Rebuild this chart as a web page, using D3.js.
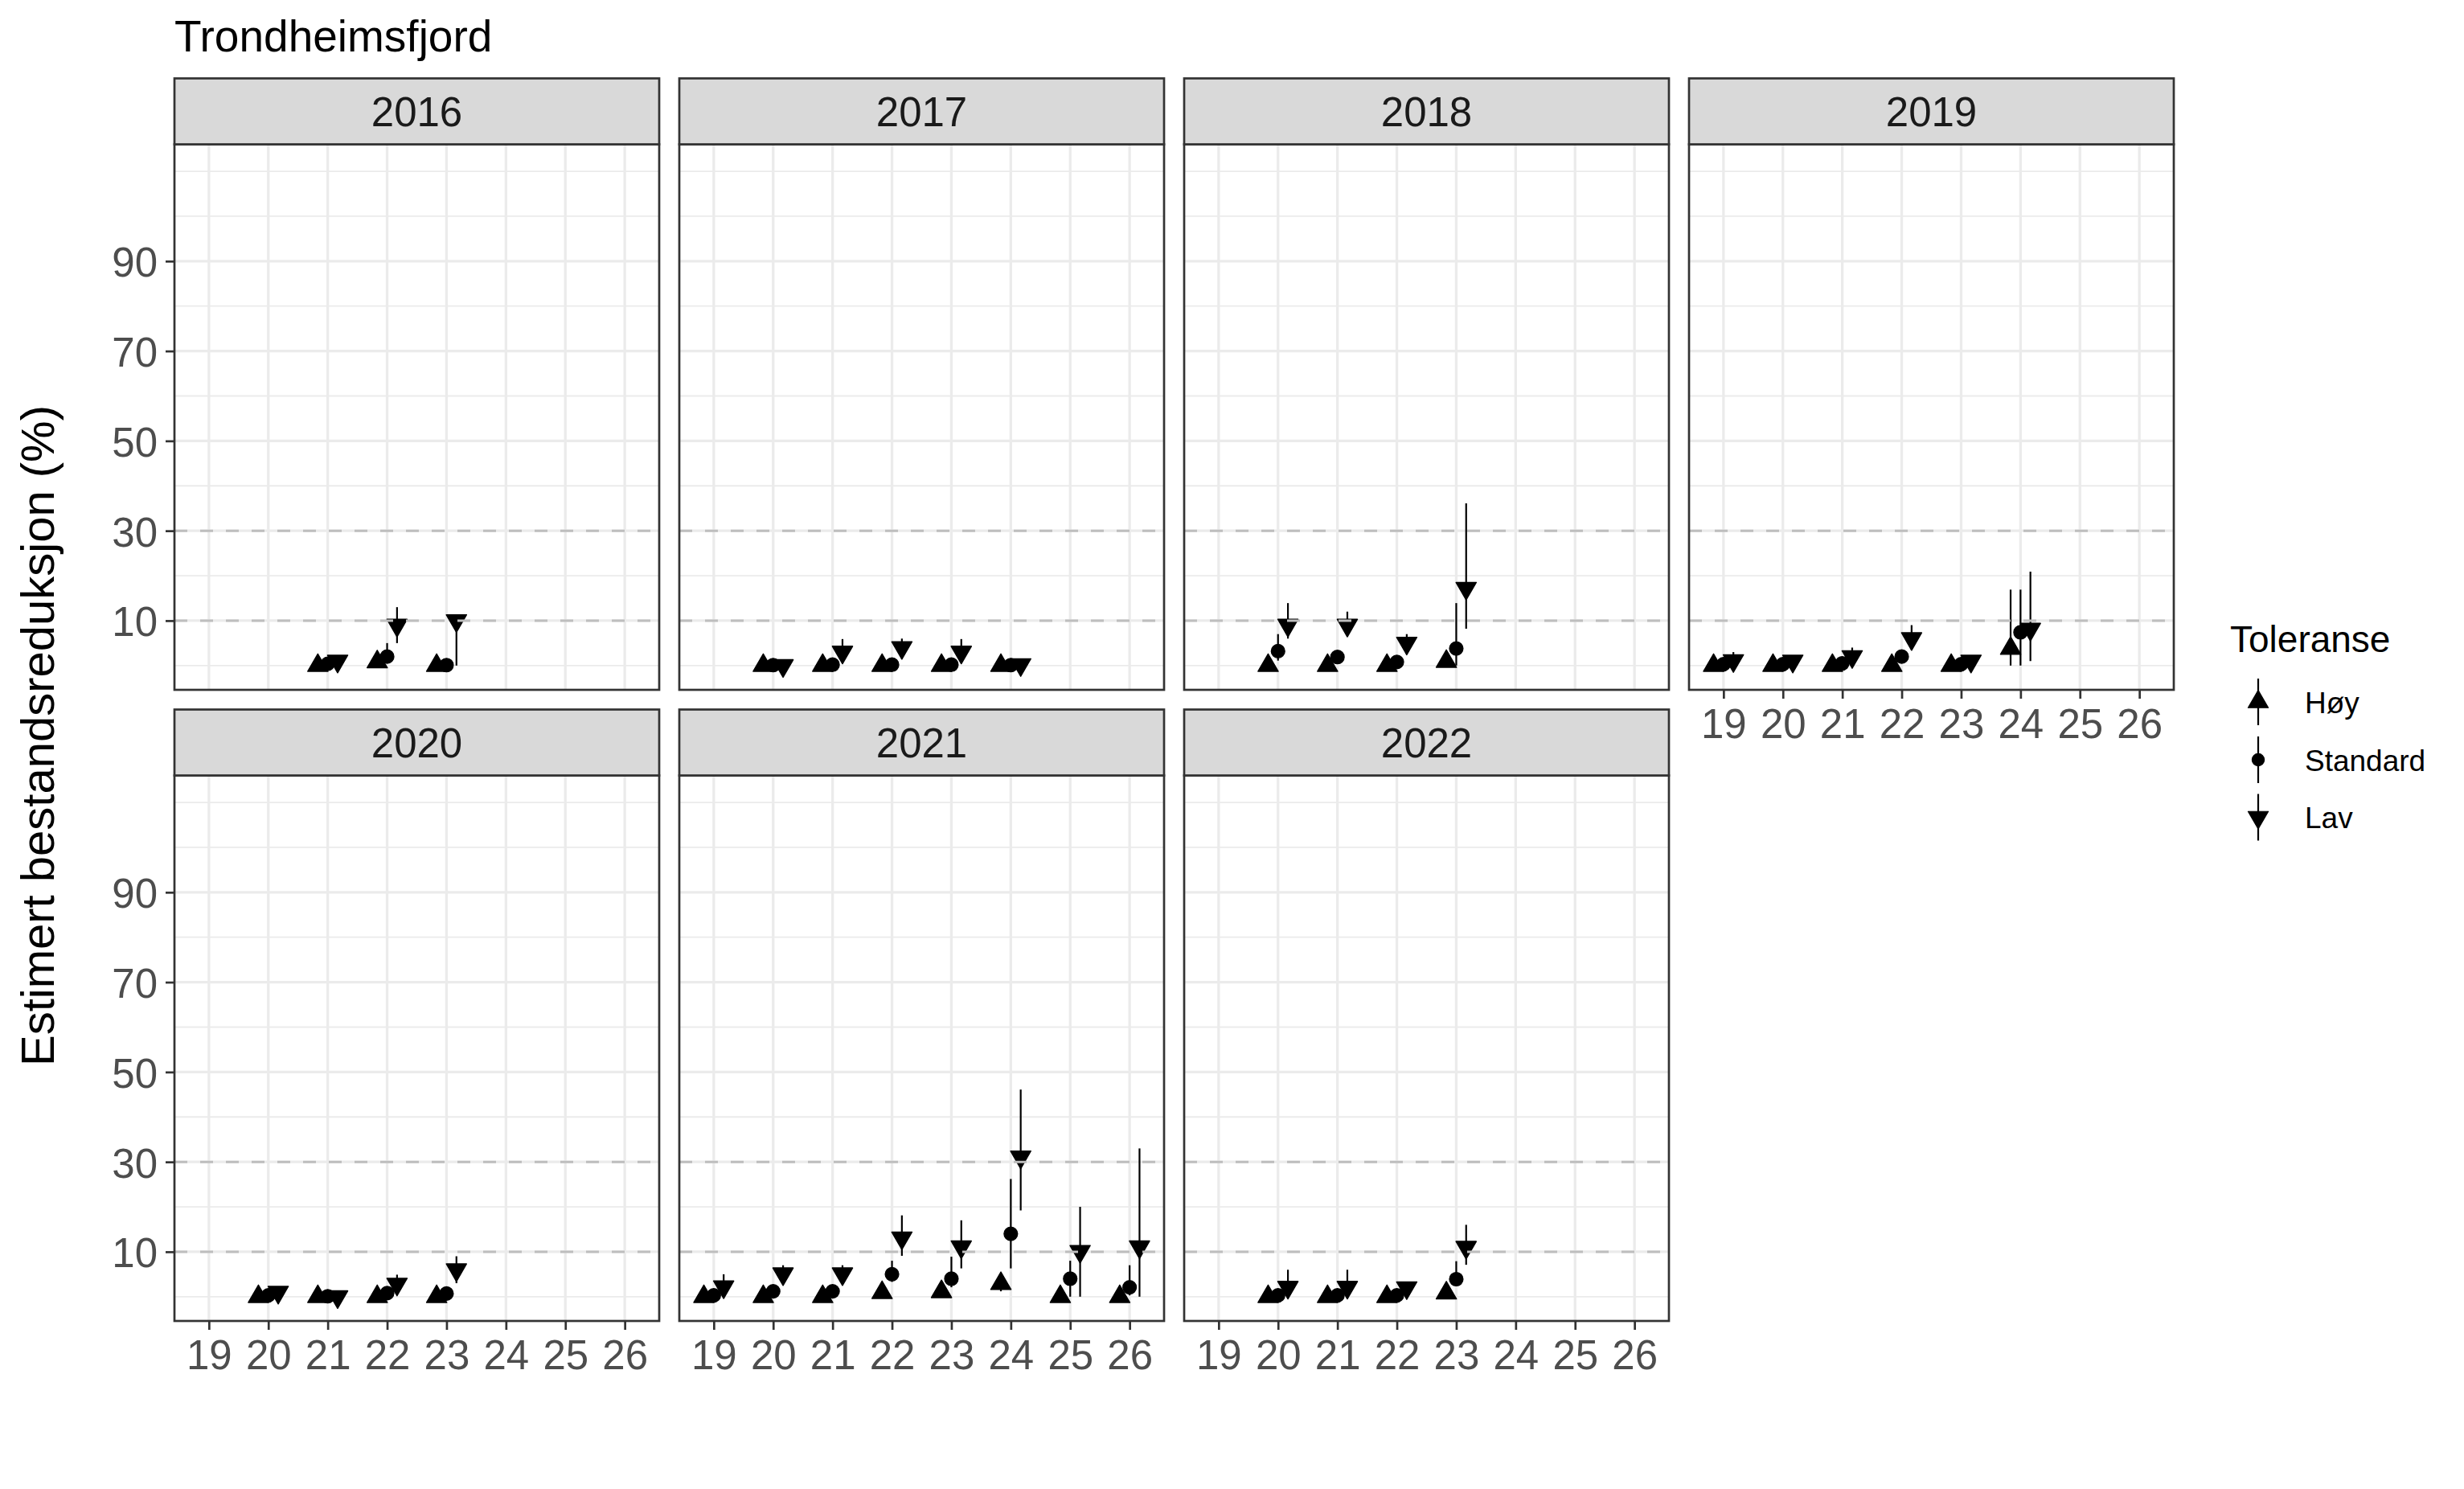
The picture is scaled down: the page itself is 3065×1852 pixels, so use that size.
<!DOCTYPE html>
<html><head><meta charset="utf-8">
<script src="https://cdn.jsdelivr.net/npm/d3@7"></script>
<style>body{margin:0;background:#fff}</style>
</head><body><svg id="c" width="3065" height="1852" xmlns="http://www.w3.org/2000/svg"></svg>
<script>
// ---------------- data ----------------
const years = [2016, 2017, 2018, 2019, 2020, 2021, 2022];
const weekTicks = [19, 20, 21, 22, 23, 24, 25, 26];
const yTicks = [10, 30, 50, 70, 90];
const yMinor = [0, 20, 40, 60, 80, 100, 110];
const refLines = [10, 30];
const tolerances = ["Høy", "Standard", "Lav"];

const obsYear = [2016,2016,2016, 2017,2017,2017,2017,2017, 2018,2018,2018,2018,
  2019,2019,2019,2019,2019,2019, 2020,2020,2020,2020,
  2021,2021,2021,2021,2021,2021,2021,2021, 2022,2022,2022,2022];
const obsWeek = [21,22,23, 20,21,22,23,24, 20,21,22,23,
  19,20,21,22,23,24, 20,21,22,23,
  19,20,21,22,23,24,25,26, 20,21,22,23];

const hoyEst = [0,0.8,0, 0,0,0,0,0, 0,0,0,0.9, 0,0,0,0,0,3.8, 0,0,0,0, 0,0,0,0.9,1.1,2.9,0,0, 0,0,0,0.8];
const hoyLo  = [0,0.2,0, 0,0,0,0,0, 0,0,0,0.2, 0,0,0,0,0,0,   0,0,0,0, 0,0,0,0.2,0.3,1.2,0,0, 0,0,0,0.2];
const hoyHi  = [0.3,1.5,0.3, 0.3,0.3,0.3,0.3,0.3, 0.4,0.3,0.3,2.0, 0.3,0.3,0.3,0.3,0.3,16.9,
  0.3,0.3,0.3,0.3, 0.3,0.3,0.3,2.0,2.5,4.5,0.3,0.3, 0.3,0.3,0.3,1.5];

const stdEst = [0.4,2.0,0.1, 0.1,0.2,0.2,0.2,0.1, 3.2,1.9,0.8,3.8, 0.3,0.3,0.5,2.0,0.3,7.4,
  0.3,0.1,0.8,0.7, 0.3,1.2,1.2,5.0,4.0,14.0,4.0,2.1, 0.3,0.3,0.3,3.9];
const stdLo  = [0,0.5,0, 0,0,0,0,0, 1.1,0.8,0.3,0, 0,0,0.1,0.5,0,0,
  0,0,0.2,0.2, 0,0.3,0.3,3.3,2.1,6.3,0,0.3, 0,0,0,2.6];
const stdHi  = [1.0,5.0,0.5, 0.5,0.8,0.8,0.8,0.5, 7.0,3.0,1.5,13.9, 0.8,0.8,1.0,3.5,0.8,16.9,
  0.8,0.5,1.5,1.5, 0.8,2.5,2.5,8.0,8.9,26.2,8.0,7.0, 0.8,0.8,0.8,7.9];

const lavEst = [1.0,9.0,10.0, 0,3.0,4.0,3.0,0.2, 9.0,9.0,5.0,17.2, 1.1,1.0,2.0,6.0,1.0,8.1,
  1.0,0,2.8,6.0, 2.2,5.1,5.1,13.1,11.1,31.1,10.1,11.1, 2.1,2.1,2.0,11.0];
const lavLo  = [0.2,5.0,0, 0,1.0,1.5,1.0,0, 6.0,6.5,2.5,8.2, 0.3,0.3,0.5,3.5,0.3,1.0,
  0.3,0,1.0,3.0, 0.5,3.0,3.0,9.1,6.3,19.2,0,0, 0.5,0.5,0.5,7.1];
const lavHi  = [2.0,13.0,10.5, 0.5,5.9,6.0,5.9,0.5, 13.9,12.0,7.0,36.1, 3.0,1.5,4.0,9.0,1.5,20.9,
  1.5,0.3,4.9,9.0, 5.0,7.0,7.0,18.1,17.0,46.1,20.0,33.0, 6.0,6.0,3.0,16.0];

// ---------------- build rows ----------------
const seriesEst = [hoyEst, stdEst, lavEst];
const seriesLo = [hoyLo, stdLo, lavLo];
const seriesHi = [hoyHi, stdHi, lavHi];
const rows = [];
tolerances.forEach((tol, ti) => {
  obsYear.forEach((yr, i) => {
    rows.push({year: yr, week: obsWeek[i], tol: tol, ti: ti,
      est: seriesEst[ti][i], lo: seriesLo[ti][i], hi: seriesHi[ti][i]});
  });
});

// ---------------- layout ----------------
const FONT = "'Liberation Sans', Arial, Helvetica, sans-serif";
const svg = d3.select("#c");
svg.append("rect").attr("width", 3065).attr("height", 1852).attr("fill", "#fff");

const panelW = 603, panelH = 678.5, stripH = 82;
const colLeft0 = 217, colPitch = 628;
const rowTop0 = 97.5, rowPitch = 785;
const nCols = 4;

const x = d3.scaleLinear().domain([18.42, 26.58]).range([0, panelW]);
const y = d3.scaleLinear().domain([-5.4, 116.0]).range([panelH, 0]);
const dodge = d3.scaleOrdinal().domain(tolerances).range([-1/6, 0, 1/6]);

// shape paths
const hw = 12.6, rT = hw / 0.8660254;
const triUp = `M0,${-rT}L${hw},${rT/2}L${-hw},${rT/2}Z`;
const triDown = `M0,${rT}L${hw},${-rT/2}L${-hw},${-rT/2}Z`;
const circ = d3.symbol().type(d3.symbolCircle).size(Math.PI * 8.4 * 8.4)();
const shapeFor = d3.scaleOrdinal().domain(tolerances).range([triUp, circ, triDown]);

years.forEach((yr, idx) => {
  const col = idx % nCols, row = Math.floor(idx / nCols);
  const left = colLeft0 + col * colPitch;
  const stripTop = rowTop0 + row * rowPitch;
  const top = stripTop + stripH;
  const g = svg.append("g").attr("transform", `translate(${left},${top})`);

  // strip
  svg.append("rect").attr("x", left).attr("y", stripTop).attr("width", panelW).attr("height", stripH)
    .attr("fill", "#D9D9D9").attr("stroke", "#333333").attr("stroke-width", 2.7);
  svg.append("text").attr("x", left + panelW / 2).attr("y", stripTop + stripH / 2 + 18.5)
    .attr("text-anchor", "middle").attr("font-family", FONT).attr("font-size", 51)
    .attr("fill", "#1A1A1A").text(yr);

  // grid
  g.append("rect").attr("width", panelW).attr("height", panelH).attr("fill", "#fff");
  g.selectAll(".minor").data(yMinor).enter().append("line")
    .attr("x1", 0).attr("x2", panelW).attr("y1", d => y(d)).attr("y2", d => y(d))
    .attr("stroke", "#EBEBEB").attr("stroke-width", 1.8);
  g.selectAll(".majy").data(yTicks).enter().append("line")
    .attr("x1", 0).attr("x2", panelW).attr("y1", d => y(d)).attr("y2", d => y(d))
    .attr("stroke", "#EBEBEB").attr("stroke-width", 3.3);
  g.selectAll(".majx").data(weekTicks).enter().append("line")
    .attr("y1", 0).attr("y2", panelH).attr("x1", d => x(d)).attr("x2", d => x(d))
    .attr("stroke", "#EBEBEB").attr("stroke-width", 3.3);

  const pr = rows.filter(r => r.year === yr);
  // ranges
  g.selectAll(".rng").data(pr).enter().append("line")
    .attr("x1", d => x(d.week + dodge(d.tol))).attr("x2", d => x(d.week + dodge(d.tol)))
    .attr("y1", d => y(d.lo)).attr("y2", d => y(d.hi))
    .attr("stroke", "#000").attr("stroke-width", 2.2);
  // points
  g.selectAll(".pt").data(pr).enter().append("path")
    .attr("d", d => shapeFor(d.tol))
    .attr("transform", d => `translate(${x(d.week + dodge(d.tol))},${y(d.est)})`)
    .attr("fill", "#000").attr("stroke", "#000").attr("stroke-width", 1.4)
    .attr("stroke-linejoin", "round");

  // reference dashed lines
  g.selectAll(".ref").data(refLines).enter().append("line")
    .attr("x1", 0).attr("x2", panelW).attr("y1", d => y(d)).attr("y2", d => y(d))
    .attr("stroke", "#BEBEBE").attr("stroke-width", 3).attr("stroke-dasharray", "16,16");

  // border
  g.append("rect").attr("width", panelW).attr("height", panelH).attr("fill", "none")
    .attr("stroke", "#333333").attr("stroke-width", 2.7);

  // y axis on first column
  if (col === 0) {
    const ax = g.append("g").call(d3.axisLeft(y).tickValues(yTicks).tickSize(11).tickPadding(10));
    ax.select(".domain").remove();
    ax.selectAll(".tick line").attr("stroke", "#333333").attr("stroke-width", 2.7);
    ax.selectAll(".tick text").attr("font-family", FONT).attr("font-size", 51)
      .attr("fill", "#4D4D4D").attr("dy", "0.37em");
  }
  // x axis on bottom-most panel of each column
  const isBottom = (idx + nCols >= years.length);
  if (isBottom) {
    const ax = g.append("g").attr("transform", `translate(0,${panelH})`)
      .call(d3.axisBottom(x).tickValues(weekTicks).tickSize(11).tickPadding(12.5));
    ax.select(".domain").remove();
    ax.selectAll(".tick line").attr("stroke", "#333333").attr("stroke-width", 2.7);
    ax.selectAll(".tick text").attr("font-family", FONT).attr("font-size", 51)
      .attr("fill", "#4D4D4D");
  }
});

// title
svg.append("text").attr("x", 217).attr("y", 64).attr("font-family", FONT)
  .attr("font-size", 55).attr("fill", "#000").text("Trondheimsfjord");

// y axis title
svg.append("text").attr("transform", "translate(67,915) rotate(-90)")
  .attr("text-anchor", "middle").attr("font-family", FONT).attr("font-size", 58)
  .attr("fill", "#000").text("Estimert bestandsreduksjon (%)");

// legend
const lg = svg.append("g");
lg.append("text").attr("x", 2774).attr("y", 811).attr("font-family", FONT)
  .attr("font-size", 46).attr("fill", "#000").text("Toleranse");
const keyCy = d3.scaleOrdinal().domain(tolerances).range([873, 945, 1016.5]);
tolerances.forEach(t => {
  const cy = keyCy(t);
  lg.append("line").attr("x1", 2809).attr("x2", 2809).attr("y1", cy - 29).attr("y2", cy + 29)
    .attr("stroke", "#000").attr("stroke-width", 2.2);
  const sh = t === "Standard" ? d3.symbol().type(d3.symbolCircle).size(Math.PI * 7.6 * 7.6)() : shapeFor(t);
  lg.append("path").attr("d", sh).attr("transform", `translate(2809,${cy})`).attr("fill", "#000")
    .attr("stroke", "#000").attr("stroke-width", 1.2).attr("stroke-linejoin", "round");
  lg.append("text").attr("x", 2867).attr("y", cy + 13.5).attr("font-family", FONT)
    .attr("font-size", 37).attr("fill", "#000").text(t);
});
</script>
</body></html>
